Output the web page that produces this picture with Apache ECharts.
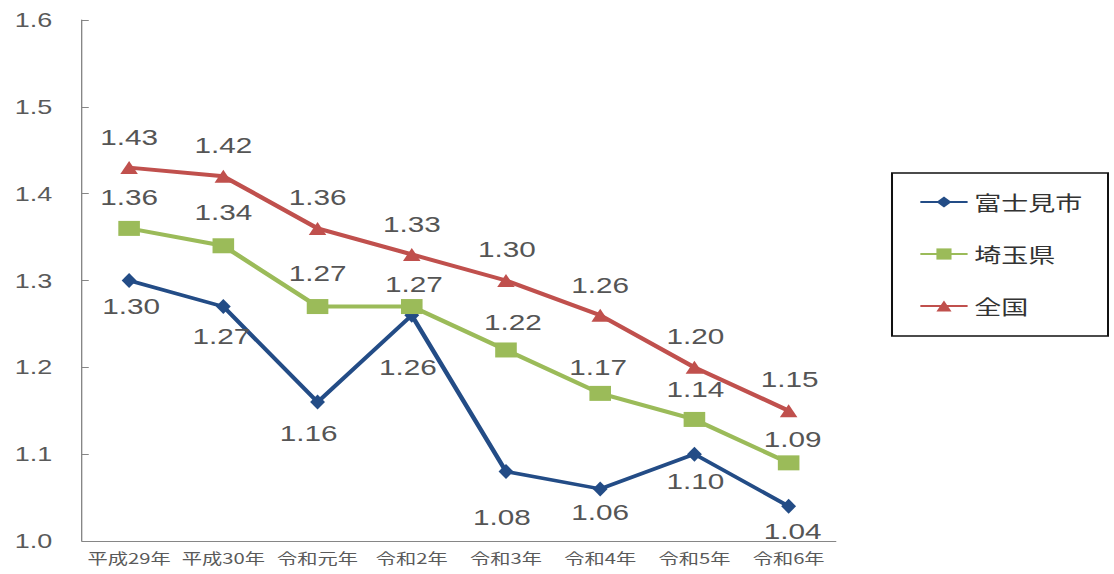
<!DOCTYPE html>
<html>
<head>
<meta charset="utf-8">
<script src="https://cdn.jsdelivr.net/npm/echarts@6/dist/echarts.min.js"></script>
<style>
  html, body { margin: 0; padding: 0; background: #fff; overflow: hidden; }
  #wrap { width: 1114px; height: 574px; overflow: hidden; }
  /* the chart is laid out narrower and widened horizontally, like a wide-aspect print */
  #chart { height: 574px; transform-origin: 0 0; }
</style>
</head>
<body>
<div id="wrap"><div id="chart"></div></div>
<script>
// ---- data ----
const categories = ['平成29年', '平成30年', '令和元年', '令和2年', '令和3年', '令和4年', '令和5年', '令和6年'];
const fujimi  = [1.30, 1.27, 1.16, 1.26, 1.08, 1.06, 1.10, 1.04];
const saitama = [1.36, 1.34, 1.27, 1.27, 1.22, 1.17, 1.14, 1.09];
const zenkoku = [1.43, 1.42, 1.36, 1.33, 1.30, 1.26, 1.20, 1.15];
const seriesNames = ['富士見市', '埼玉県', '全国'];

// ---- layout ----
const SX = 1.35;                       // horizontal stretch factor
const W = 1114 / SX;
const chartEl = document.getElementById('chart');
chartEl.style.width = W + 'px';
chartEl.style.transform = 'scaleX(' + SX + ')';

// value-label placement relative to each marker (screen px, x before stretch)
const fujimiLabelShift  = [[2, 26], [-2, 30], [-9, 31], [-4, 52], [-4, 46], [0, 24], [1, 27], [4, 25]];
const saitamaLabelShift = [[0, -31], [0, -33], [0, -33], [2, -22], [7, -28], [-2, -26], [1, -30], [4, -23]];
const zenkokuLabelShift = [[0, -30], [0, -31], [0, -31], [0, -30], [1, -31], [0, -30], [1, -31], [1, -31]];

const NUM_FONT = '"Liberation Sans", Arial, sans-serif';
const JP_FONT = '"Noto Sans CJK JP", sans-serif';

function withLabels(values, shifts) {
  return values.map((v, i) => ({
    value: v,
    label: { offset: [shifts[i][0] / SX, shifts[i][1]] }
  }));
}

function lineSeries(name, values, shifts, color, symbol, size, width) {
  return {
    name: name,
    type: 'line',
    data: withLabels(values, shifts),
    symbol: symbol,
    symbolSize: size,
    lineStyle: { color: color, width: width },
    itemStyle: { color: color },
    label: {
      show: true,
      position: 'inside',
      formatter: p => p.value.toFixed(2),
      fontFamily: NUM_FONT,
      fontSize: 22,
      color: '#555555'
    },
    emphasis: { disabled: true },
    animation: false
  };
}

const chart = echarts.init(chartEl, null, { renderer: 'svg' });
chart.setOption({
  backgroundColor: '#ffffff',
  animation: false,
  grid: { left: 82 / SX, right: W - 836 / SX, top: 20, bottom: 33 },
  legend: {
    orient: 'vertical',
    left: 892 / SX,
    top: 173,
    data: seriesNames,
    itemWidth: 35,
    itemHeight: 14,
    itemGap: 32,
    padding: [19, 19, 20, 20],
    borderColor: '#111',
    borderWidth: 1.5,
    textStyle: { fontFamily: JP_FONT, fontSize: 20, color: '#333' }
  },
  xAxis: {
    type: 'category',
    data: categories,
    boundaryGap: true,
    axisLine: { lineStyle: { color: '#868686', width: 1 } },
    axisTick: { inside: true, length: 5, lineStyle: { color: '#868686' } },
    axisLabel: { fontFamily: JP_FONT, fontSize: 15, color: '#5a5a5a', margin: 9, interval: 0 },
    splitLine: { show: false }
  },
  yAxis: {
    type: 'value',
    min: 1.0,
    max: 1.6,
    interval: 0.1,
    axisLine: { show: true, lineStyle: { color: '#868686', width: 1 } },
    axisTick: { show: true, inside: true, length: 5, lineStyle: { color: '#868686' } },
    axisLabel: {
      fontFamily: NUM_FONT, fontSize: 20, color: '#5a5a5a', margin: 22,
      formatter: v => v.toFixed(1)
    },
    splitLine: { show: false }
  },
  series: [
    lineSeries(seriesNames[0], fujimi, fujimiLabelShift, '#234C86', 'diamond', [11, 15], 3.5),
    lineSeries(seriesNames[1], saitama, saitamaLabelShift, '#9BBB59', 'rect', [16, 15], 4),
    lineSeries(seriesNames[2], zenkoku, zenkokuLabelShift, '#C0504D', 'triangle', [13, 13], 4)
  ]
});
</script>
</body>
</html>
